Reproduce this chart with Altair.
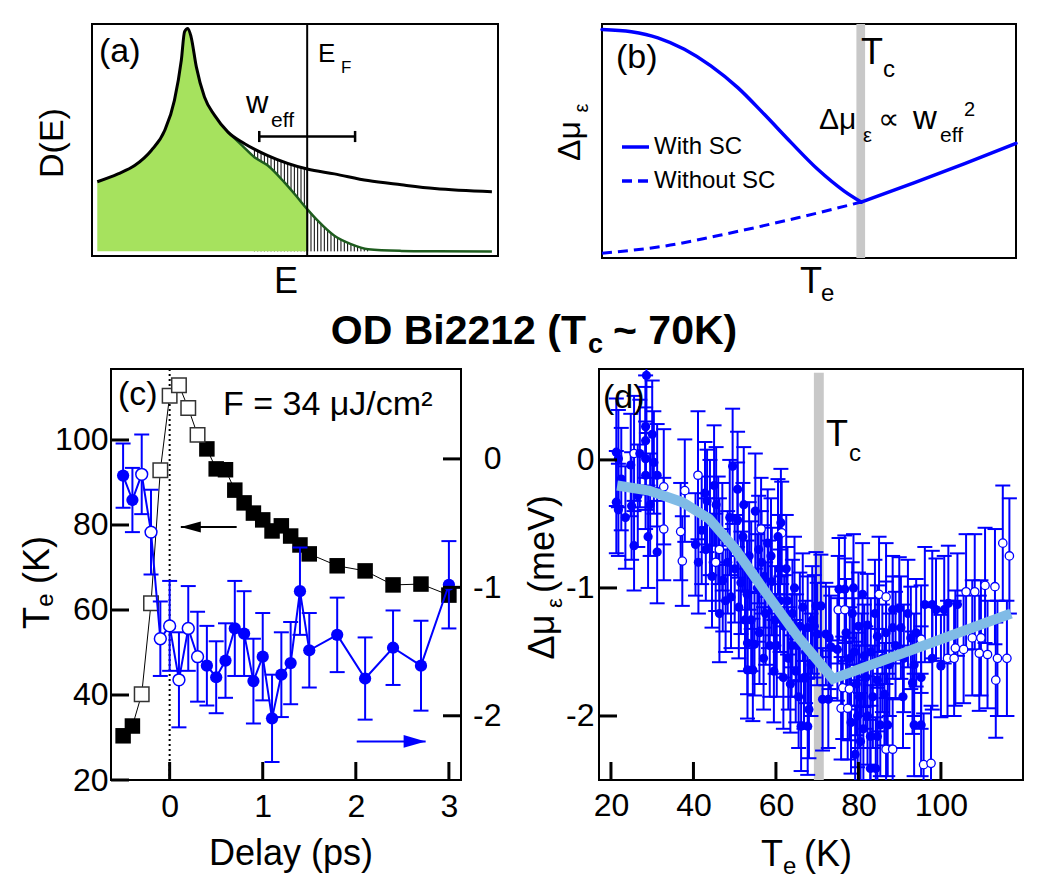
import altair as alt
import numpy as np
import pandas as pd

FONT = "Liberation Sans"
BLUE = "#0000ff"
FIT_BLUE = "#80bbe6"
GREY = "#c8c8c8"
LIGHT_GREEN = "#a6e25e"
DARK_GREEN = "#1e5c1e"

# ---------------- (a) density of states, E_F at E = 0 ----------------
A_E = [-5.17, -4.66, -4.25, -3.84, -3.51, -3.27, -3.10, -3.02, -2.94, -2.86, -2.73,
       -2.53, -2.28, -1.95, -1.54, -0.97, 0.00, 0.67, 1.50, 2.32, 3.14, 4.55]
A_DOS = [3.20, 3.54, 3.90, 4.55, 5.41, 6.71, 8.44, 9.67, 9.81, 9.45, 8.15,
         6.85, 6.06, 5.34, 4.84, 4.33, 3.75, 3.54, 3.25, 3.07, 2.91, 2.77]
A_OCC_E = [-5.17, -4.66, -4.25, -3.84, -3.51, -3.27, -3.10, -3.02, -2.94, -2.86, -2.73,
           -2.53, -2.28, -1.95, -1.60, -1.30, -0.97, -0.56, -0.31, 0.00, 0.26, 0.67,
           1.08, 1.50, 2.32, 3.20, 4.55]
A_OCC = [3.20, 3.54, 3.90, 4.55, 5.41, 6.71, 8.44, 9.67, 9.81, 9.45, 8.15,
         6.85, 6.06, 5.34, 4.76, 4.26, 3.90, 3.17, 2.67, 2.02, 1.52, 0.87,
         0.51, 0.29, 0.22, 0.20, 0.19]
A_WEFF = [-1.18, 1.18]
A_WEFF_LEVEL = 5.15

# ---------------- (b) sketch of the chemical-potential shift ----------------
B_TC = 62.5
B_SC_T = [0, 7.1, 13.5, 19.9, 26.3, 32.8, 39.2, 45.7, 52.1, 58.5, 62.6]
B_SC_V = [9.77, 9.67, 9.41, 8.92, 8.21, 7.28, 6.14, 4.93, 3.79, 2.86, 2.39]
B_NORMAL_T = [62.6, 75.5, 87.6, 100]
B_NORMAL_V = [2.39, 3.22, 4.03, 4.90]
B_NOSC_T = [0, 15.1, 31.3, 47.3, 62.6]
B_NOSC_V = [0.20, 0.51, 1.08, 1.72, 2.39]

# ---------------- (c) electronic temperature and shift vs delay ----------------
C_DELAY = [-0.5, -0.4, -0.3, -0.2, -0.1, 0.0, 0.1, 0.2, 0.3, 0.4, 0.5, 0.6, 0.7,
           0.8, 0.9, 1.0, 1.1, 1.2, 1.3, 1.4, 1.5, 1.8, 2.1, 2.4, 2.7, 3.0]
C_OPEN = [0, 0, 1, 1, 1, 1, 1, 1, 1, 0, 0, 0, 0, 0, 0, 0, 0, 0, 0, 0, 0, 0, 0, 0, 0, 0]
C_TE = [30.4, 32.7, 40.2, 61.6, 92.9, 110.4, 112.9, 107.5, 101.2, 97.9, 93.2, 93.0, 88.2,
        85.2, 82.8, 81.2, 78.6, 79.8, 77.4, 75.3, 73.2, 70.4, 69.2, 65.9, 66.1, 63.5]
C_DMU = [-0.13, -0.32, -0.12, -0.57, -1.40, -1.30, -1.72, -1.32, -1.54, -1.61, -1.70, -1.57, -1.32,
         -1.36, -1.73, -1.54, -2.02, -1.68, -1.59, -1.03, -1.49, -1.37, -1.71, -1.47, -1.61, -0.98]
C_ERR = [0.25, 0.25, 0.31, 0.33, 0.29, 0.35, 0.37, 0.33, 0.35, 0.31, 0.28, 0.29, 0.37,
         0.33, 0.33, 0.34, 0.34, 0.33, 0.32, 0.34, 0.29, 0.29, 0.32, 0.29, 0.35, 0.34]
C_TICKS_X = [0, 1, 2, 3]
C_TICKS_TE = [20, 40, 60, 80, 100]
C_TICKS_DMU = [0, -1, -2]

# ---------------- (d) shift vs electronic temperature ----------------
D_FILLED_T = [21.3, 21.8, 21.3, 21.8, 24.8, 25.0, 25.6, 26.5, 28.4, 28.4,
              28.4, 28.4, 28.6, 29.5, 30.4, 31.2, 31.2, 40.5, 41.2, 42.8,
              43.3, 44.0, 44.5, 45.0, 46.0, 46.3, 47.1, 48.3, 49.1, 49.5,
              50.7, 50.7, 51.5, 52.0, 52.5, 53.1, 53.1, 53.5, 54.4, 54.8,
              55.0, 55.5, 56.5, 57.2, 57.5, 58.0, 58.5, 59.0, 59.5, 60.5,
              61.2, 61.0, 62.0, 62.5, 63.0, 63.5, 64.0, 64.5, 65.0, 65.5,
              66.1, 66.5, 67.7, 67.7, 68.5, 69.3, 69.7, 70.0, 70.9, 71.3,
              72.1, 72.7, 72.9, 73.3, 74.9, 75.3, 76.7, 78.5, 79.0, 79.5,
              79.8, 80.0, 80.5, 80.8, 81.0, 81.4, 82.2, 82.2, 82.9, 82.9,
              84.2, 84.6, 84.6, 84.6, 85.3, 86.3, 86.7, 87.1, 88.3, 88.3,
              89.9, 90.3, 91.0, 92.7, 93.1, 93.5, 93.5, 95.2, 95.2, 96.1,
              97.9, 97.9, 98.8, 100.0, 100.8, 101.8, 104.0,
              42.0, 43.0, 45.5, 47.0, 47.8, 48.8, 50.0, 51.0, 52.2, 53.0,
              54.0, 54.0, 55.8, 56.0, 57.0, 58.2, 58.8, 59.8, 60.2, 60.8,
              61.8, 62.8, 63.8, 64.8, 65.8, 66.8, 67.2, 68.0, 68.8,
              77.0, 77.9, 78.2, 78.8, 79.2, 80.2, 81.2, 81.8, 83.0, 83.5,
              84.0, 85.8, 87.5, 89.0, 90.8, 92.0, 94.0,
              22.5, 23.5, 27.0, 29.0, 30.0]
D_FILLED_V = [0.06, 0.01, -0.33, -0.39, -0.04, -0.36, -0.67, -0.28, 0.26, 0.15,
              0.01, -0.12, 0.66, -0.35, -0.02, -0.12, -0.72, -0.66, -0.80, -0.26,
              -0.32, -0.45, -0.91, -0.20, -0.55, -1.20, -0.94, -0.80, -1.07, -0.05,
              -0.23, -0.47, -0.96, -0.60, -1.25, -1.43, -1.64, -0.75, -1.64, -1.44,
              -0.40, -1.00, -0.80, -0.91, -1.20, -0.65, -1.45, -0.95, -1.65, -0.60,
              -0.49, -1.10, -1.30, -0.85, -1.55, -1.75, -1.20, -1.00, -1.45, -1.85,
              -2.08, -1.15, -1.31, -2.08, -1.60, -1.30, -1.14, -1.36, -1.14, -1.87,
              -1.36, -1.87, -1.39, -1.46, -1.48, -1.01, -1.01, -1.20, -1.50, -1.75,
              -2.00, -1.30, -2.20, -1.60, -1.05, -1.53, -1.29, -2.00, -2.16, -2.41,
              -2.41, -1.38, -1.72, -2.16, -2.07, -1.83, -1.35, -2.07, -1.17, -1.31,
              -1.16, -1.31, -1.55, -1.39, -1.74, -1.60, -2.07, -1.70, -2.07, -1.13,
              -1.13, -1.55, -1.17, -1.61, -1.17, -1.12, -1.13,
              -0.55, -0.70, -0.35, -0.60, -1.10, -0.45, -0.85, -1.15, -0.35, -1.05,
              -0.90, -1.25, -0.70, -1.35, -1.55, -1.05, -0.75, -1.25, -1.45, -0.85,
              -1.70, -1.10, -1.45, -1.65, -1.30, -1.70, -1.50, -1.95, -1.25,
              -1.35, -1.55, -2.05, -1.00, -2.30, -1.85, -2.10, -1.70, -1.50, -1.85,
              -1.20, -1.55, -1.60, -1.45, -1.85, -1.20, -1.35,
              -0.15, -0.45, 0.05, -0.60, 0.20]
D_FILLED_ERR = [0.42, 0.38, 0.40, 0.36, 0.40, 0.42, 0.35, 0.40, 0.40, 0.42,
                0.40, 0.42, 0.45, 0.40, 0.40, 0.40, 0.40, 0.40, 0.40, 0.40,
                0.40, 0.45, 0.40, 0.47, 0.42, 0.38, 0.40, 0.40, 0.40, 0.45,
                0.45, 0.45, 0.40, 0.42, 0.40, 0.40, 0.38, 0.42, 0.40, 0.40,
                0.45, 0.42, 0.40, 0.40, 0.40, 0.42, 0.40, 0.42, 0.40, 0.45,
                0.42, 0.40, 0.40, 0.42, 0.40, 0.38, 0.42, 0.40, 0.40, 0.40,
                0.35, 0.42, 0.40, 0.38, 0.40, 0.40, 0.42, 0.40, 0.40, 0.40,
                0.40, 0.38, 0.40, 0.40, 0.40, 0.40, 0.42, 0.40, 0.42, 0.40,
                0.40, 0.42, 0.38, 0.40, 0.40, 0.40, 0.40, 0.38, 0.40, 0.38,
                0.40, 0.40, 0.40, 0.40, 0.40, 0.40, 0.40, 0.40, 0.42, 0.40,
                0.40, 0.40, 0.42, 0.40, 0.40, 0.40, 0.40, 0.40, 0.40, 0.45,
                0.42, 0.40, 0.40, 0.40, 0.42, 0.45, 0.40,
                0.42, 0.40, 0.45, 0.42, 0.40, 0.45, 0.42, 0.40, 0.45, 0.42,
                0.42, 0.40, 0.42, 0.40, 0.40, 0.42, 0.45, 0.42, 0.40, 0.42,
                0.40, 0.42, 0.40, 0.40, 0.42, 0.40, 0.40, 0.38, 0.42,
                0.42, 0.40, 0.40, 0.42, 0.38, 0.40, 0.40, 0.40, 0.42, 0.40,
                0.42, 0.42, 0.40, 0.42, 0.40, 0.42, 0.42,
                0.40, 0.40, 0.42, 0.40, 0.42]
D_OPEN_T = [25.6, 32.8, 32.8, 36.9, 37.9, 37.3, 41.1, 45.4, 46.3, 56.4,
            61.4, 75.1, 75.8, 76.2, 76.7, 77.4, 77.8, 85.0, 86.7, 86.7,
            88.3, 95.2, 95.8, 97.6, 101.6, 103.2, 103.5, 105.5, 106.1, 107.6,
            108.2, 109.3, 109.7, 110.7, 111.3, 113.1, 113.3, 113.7, 115.0, 116.0, 116.6]
D_OPEN_V = [0.05, -0.21, -0.54, -0.56, -0.24, -0.79, -0.12, -0.80, -0.70, -0.54,
            -0.57, -1.17, -1.94, -1.78, -1.17, -1.94, -1.79, -1.05, -2.26, -1.07,
            -2.26, -1.40, -2.38, -2.37, -1.55, -1.55, -1.47, -1.48, -1.03, -1.39,
            -1.03, -1.51, -1.39, -0.98, -1.52, -0.99, -1.72, -1.55, -0.65, -1.55, -0.75]
D_OPEN_ERR = [0.45, 0.45, 0.40, 0.38, 0.40, 0.35, 0.50, 0.38, 0.40, 0.40,
              0.40, 0.42, 0.40, 0.40, 0.40, 0.40, 0.40, 0.45, 0.40, 0.42,
              0.40, 0.42, 0.40, 0.45, 0.45, 0.45, 0.45, 0.42, 0.45, 0.45,
              0.45, 0.45, 0.45, 0.45, 0.42, 0.45, 0.45, 0.45, 0.45, 0.45, 0.45]
D_FIT_T = [21.5, 29.2, 37.3, 43.8, 50.0, 57.2, 65.3, 73.8, 117.0]
D_FIT_V = [-0.20, -0.24, -0.33, -0.46, -0.69, -1.02, -1.38, -1.71, -1.20]
D_TC_BAND = [69.2, 71.6]
D_TICKS_X = [20, 40, 60, 80, 100]
D_TICKS_Y = [0, -1, -2]

# axis ranges of the two data panels
C_XDOM = [-0.63, 3.13]
C_TEDOM = [20, 116.7]
C_DMUDOM = [-2.5, 0.70]
D_XDOM = [17.1, 119.9]
D_YDOM = [-2.5, 0.71]

# panel plot-area sizes (px)
A_W, A_H = 406, 232
B_W, B_H = 414, 234
C_W, C_H = 350, 411
D_W, D_H = 424, 411
TICK = 18

ONE = pd.DataFrame({"k": [0]})
FRAME = alt.ViewBackground(stroke="black", strokeWidth=2)


def label(text, x, y, size, align="left", baseline="middle", angle=0, bold=False, color="black"):
    return alt.Chart(ONE).mark_text(
        text=text, align=align, baseline=baseline, angle=angle, font=FONT,
        fontSize=size, fontWeight="bold" if bold else "normal", color=color,
    ).encode(x=alt.value(x), y=alt.value(y))


def blank(x, x2, y, y2):
    """Invisible rectangle that only reserves layout room."""
    return alt.Chart(ONE).mark_rect(opacity=0).encode(
        x=alt.value(x), x2=alt.value(x2), y=alt.value(y), y2=alt.value(y2))


def tick_len(dom, px):
    """Length in data units of an inward tick of TICK pixels."""
    return TICK * (dom[1] - dom[0]) / px


def ticks_bottom(values, xfield, xscale, xaxis, ydom, yscale, yaxis, ypx):
    df = pd.DataFrame({xfield: [float(v) for v in values]})
    return alt.Chart(df).transform_calculate(
        ta=str(ydom[0]), tb=str(ydom[0] + tick_len(ydom, ypx))).mark_rule(
        color="black", strokeWidth=3, opacity=1).encode(
        x=alt.X(f"{xfield}:Q", scale=xscale, axis=xaxis),
        y=alt.Y("ta:Q", scale=yscale, axis=yaxis), y2="tb:Q")


def ticks_side(values, yfield, yscale, yaxis, xdom, xscale, xaxis, xpx, right=False):
    df = pd.DataFrame({yfield: [float(v) for v in values]})
    if right:
        ta, tb = xdom[1] - tick_len(xdom, xpx), xdom[1]
    else:
        ta, tb = xdom[0], xdom[0] + tick_len(xdom, xpx)
    return alt.Chart(df).transform_calculate(ta=str(ta), tb=str(tb)).mark_rule(
        color="black", strokeWidth=3, opacity=1).encode(
        y=alt.Y(f"{yfield}:Q", scale=yscale, axis=yaxis),
        x=alt.X("ta:Q", scale=xscale, axis=xaxis), x2="tb:Q")


# ======================= panel (a) =======================
xa = alt.Scale(domain=[-5.3, 4.7], nice=False, zero=False)
ya = alt.Scale(domain=[0, 10], nice=False, zero=False)
ea = alt.X("E:Q", scale=xa, axis=None)
da = alt.Y("D:Q", scale=ya, axis=None)

dos = pd.DataFrame({"E": A_E, "D": A_DOS})
occ = pd.DataFrame({"E": A_OCC_E, "D": A_OCC})
hatch = pd.DataFrame({"E": np.round(np.arange(-1.30, 1.55, 0.082), 3)})

hatch_lines = alt.Chart(hatch).transform_calculate(lo="0.2", hi="9.0").mark_rule(
    color="black", strokeWidth=1).encode(x=ea, y=alt.Y("lo:Q", scale=ya, axis=None), y2="hi:Q")
mask_dos = alt.Chart(dos).transform_calculate(top="9.9").mark_area(
    color="white", opacity=1, interpolate="monotone").encode(x=ea, y=da, y2="top:Q")
fill_occ = alt.Chart(occ).transform_filter("datum.E <= 0").transform_calculate(base="0.2").mark_area(
    color=LIGHT_GREEN, opacity=1, interpolate="monotone").encode(x=ea, y=da, y2="base:Q")
mask_occ = alt.Chart(occ).transform_filter("datum.E >= 0").transform_calculate(top="9.9").mark_area(
    color="white", opacity=1, interpolate="monotone").encode(x=ea, y=da, y2="top:Q")
line_occ = alt.Chart(occ).transform_filter("datum.E >= -1.95").mark_line(
    color=DARK_GREEN, strokeWidth=2.5, interpolate="monotone").encode(x=ea, y=da)
line_dos = alt.Chart(dos).mark_line(color="black", strokeWidth=3, interpolate="monotone").encode(x=ea, y=da)
ef_line = alt.Chart(pd.DataFrame({"E": [0.0]})).mark_rule(color="black", strokeWidth=2).encode(
    x=ea, y=alt.value(0), y2=alt.value(A_H))
weff = pd.DataFrame({"E": A_WEFF, "D": [A_WEFF_LEVEL] * 2})
weff_bar = alt.Chart(weff).mark_line(color="black", strokeWidth=2.5).encode(x=ea, y=da)
weff_caps = alt.Chart(weff).transform_calculate(lo="datum.D - 0.24", hi="datum.D + 0.24").mark_rule(
    color="black", strokeWidth=2.5).encode(x=ea, y=alt.Y("lo:Q", scale=ya, axis=None), y2="hi:Q")

panel_a = alt.layer(
    blank(-91, -80, -23, 340),
    hatch_lines, mask_dos, fill_occ, mask_occ, line_occ, line_dos, ef_line,
    weff_bar, weff_caps,
    label("(a)", 7, 28, 34),
    label("E", 226, 30, 26),
    label("F", 249, 44, 17),
    label("w", 154, 89, 31, baseline="alphabetic"),
    label("eff", 179, 103, 21, baseline="alphabetic"),
    label("D(E)", -39, 119, 34, align="center", angle=270),
    label("E", 194, 258, 36, align="center"),
    # figure heading between the two rows
    label("OD Bi2212 (T", 494, 320, 41, align="right", baseline="alphabetic", bold=True),
    label("c", 496, 329, 27, baseline="alphabetic", bold=True),
    label("~ 70K)", 521, 320, 41, baseline="alphabetic", bold=True),
).properties(width=A_W, height=A_H, view=FRAME)

# ======================= panel (b) =======================
xb = alt.Scale(domain=[0, 100], nice=False, zero=False)
yb = alt.Scale(domain=[0, 10], nice=False, zero=False)
tb = alt.X("T:Q", scale=xb, axis=None)
vb = alt.Y("V:Q", scale=yb, axis=None)

band_b = alt.Chart(pd.DataFrame({"lo": [B_TC - 1.05], "hi": [B_TC + 1.05]})).mark_rect(color=GREY).encode(
    x=alt.X("lo:Q", scale=xb, axis=None), x2="hi:Q", y=alt.value(0), y2=alt.value(B_H))
nosc = alt.Chart(pd.DataFrame({"T": B_NOSC_T, "V": B_NOSC_V})).mark_line(
    color=BLUE, strokeWidth=3, strokeDash=[10, 6], interpolate="monotone").encode(x=tb, y=vb)
sc = alt.Chart(pd.DataFrame({"T": B_SC_T, "V": B_SC_V})).mark_line(
    color=BLUE, strokeWidth=3.5, strokeCap="round", interpolate="monotone").encode(x=tb, y=vb)
normal = alt.Chart(pd.DataFrame({"T": B_NORMAL_T, "V": B_NORMAL_V})).mark_line(
    color=BLUE, strokeWidth=3.5, strokeCap="round").encode(x=tb, y=vb)
key_sc = alt.Chart(ONE).mark_rule(color=BLUE, strokeWidth=3.5).encode(
    x=alt.value(20), x2=alt.value(47), y=alt.value(123))
key_nosc = alt.Chart(ONE).mark_rule(color=BLUE, strokeWidth=3.5, strokeDash=[10, 6]).encode(
    x=alt.value(20), x2=alt.value(47), y=alt.value(157))

panel_b = alt.layer(
    band_b, nosc, sc, normal, key_sc, key_nosc,
    label("With SC", 52, 123, 24),
    label("Without SC", 52, 157, 24),
    label("(b)", 14, 34, 34),
    label("T", 259, 29, 36),
    label("c", 281, 46, 24),
    label("Δμ", 217, 105, 30, baseline="alphabetic"),
    label("ε", 261, 118, 20, baseline="alphabetic"),
    label("∝", 276, 105, 30, baseline="alphabetic"),
    label("w", 311, 105, 33, baseline="alphabetic"),
    label("eff", 338, 118, 21, baseline="alphabetic"),
    label("2", 362, 92, 20, baseline="alphabetic"),
    label("Δμ", -32, 117, 32, align="center", angle=270),
    label("ε", -20, 84, 20, align="center", angle=270),
    label("T", 209, 258, 36, align="center"),
    label("e", 219, 270, 24),
).properties(width=B_W, height=B_H, view=FRAME)

# ======================= panel (c) =======================
AX = dict(ticks=False, domain=False, grid=False, labelColor="black", labelFont=FONT,
          labelFontSize=32, labelFlush=False, labelOverlap=False, title=None)

xc = alt.Scale(domain=C_XDOM, nice=False, zero=False)
ycl = alt.Scale(domain=C_TEDOM, nice=False, zero=False)
ycr = alt.Scale(domain=C_DMUDOM, nice=False, zero=False)
xc_axis = alt.Axis(values=C_TICKS_X, labelPadding=11, **AX)
ycl_axis = alt.Axis(orient="left", values=C_TICKS_TE, labelPadding=3, **AX)
ycr_axis = alt.Axis(orient="right", values=C_TICKS_DMU, labelPadding=40, labelAlign="right",
                    labelExpr="'' + datum.value", **AX)
tc = alt.X("t:Q", scale=xc, axis=xc_axis)
te = alt.Y("Te:Q", scale=ycl, axis=ycl_axis)
dm = alt.Y("dmu:Q", scale=ycr, axis=ycr_axis)

sq = pd.DataFrame({"t": C_DELAY, "Te": C_TE, "open": C_OPEN})
mu = pd.DataFrame({"t": C_DELAY, "dmu": C_DMU, "err": C_ERR, "open": C_OPEN})

zero_line = alt.Chart(pd.DataFrame({"t": [0.0]})).mark_rule(
    color="black", strokeWidth=2, strokeDash=[2, 3]).encode(x=tc, y=alt.value(0), y2=alt.value(C_H))
sq_line = alt.Chart(sq).mark_line(color="black", strokeWidth=1).encode(x=tc, y=te)
sq_full = alt.Chart(sq).transform_filter("datum.open == 0").mark_square(
    color="black", size=240, opacity=1).encode(x=tc, y=te)
sq_open = alt.Chart(sq).transform_filter("datum.open == 1").mark_square(
    fill="white", stroke="#333333", strokeWidth=1.5, size=210, opacity=1).encode(x=tc, y=te)
arrow_l = pd.DataFrame({"t": [0.12], "t2": [0.72], "Te": [79.5]})
arrow_l_shaft = alt.Chart(arrow_l).mark_rule(color="black", strokeWidth=2).encode(x=tc, x2="t2:Q", y=te)
arrow_l_head = alt.Chart(arrow_l).mark_point(
    shape="M0,0L2,-0.55L2,0.55Z", filled=True, color="black", size=400, opacity=1).encode(x=tc, y=te)

left_group = alt.layer(
    zero_line, sq_line, sq_full, sq_open, arrow_l_shaft, arrow_l_head,
    ticks_bottom(C_TICKS_X, "t", xc, xc_axis, C_TEDOM, ycl, ycl_axis, C_H),
    ticks_side(C_TICKS_TE, "Te", ycl, ycl_axis, C_XDOM, xc, xc_axis, C_W),
)

mu_bars = alt.Chart(mu).transform_calculate(lo="datum.dmu - datum.err", hi="datum.dmu + datum.err")
mu_err = mu_bars.mark_rule(color=BLUE, strokeWidth=2).encode(
    x=tc, y=alt.Y("lo:Q", scale=ycr, axis=ycr_axis), y2="hi:Q")
mu_cap_lo = mu_bars.mark_tick(orient="horizontal", color=BLUE, size=15, thickness=2, opacity=1).encode(
    x=tc, y=alt.Y("lo:Q", scale=ycr, axis=ycr_axis))
mu_cap_hi = mu_bars.mark_tick(orient="horizontal", color=BLUE, size=15, thickness=2, opacity=1).encode(
    x=tc, y=alt.Y("hi:Q", scale=ycr, axis=ycr_axis))
mu_line = alt.Chart(mu).mark_line(color=BLUE, strokeWidth=2).encode(x=tc, y=dm)
mu_full = alt.Chart(mu).transform_filter("datum.open == 0").mark_circle(
    color=BLUE, size=150, opacity=1).encode(x=tc, y=dm)
mu_open = alt.Chart(mu).transform_filter("datum.open == 1").mark_point(
    shape="circle", filled=True, fill="white", stroke=BLUE, strokeWidth=1.5, size=140, opacity=1).encode(x=tc, y=dm)
arrow_r = pd.DataFrame({"t": [2.75], "t2": [2.01], "dmu": [-2.20]})
arrow_r_shaft = alt.Chart(arrow_r).mark_rule(color=BLUE, strokeWidth=2).encode(x=tc, x2="t2:Q", y=dm)
arrow_r_head = alt.Chart(arrow_r).mark_point(
    shape="M0,0L-2,-0.58L-2,0.58Z", filled=True, color=BLUE, size=484, opacity=1).encode(x=tc, y=dm)

right_group = alt.layer(
    mu_err, mu_cap_lo, mu_cap_hi, mu_line, mu_full, mu_open, arrow_r_shaft, arrow_r_head,
    ticks_side(C_TICKS_DMU, "dmu", ycr, ycr_axis, C_XDOM, xc, xc_axis, C_W, right=True),
)

texts_c = alt.layer(
    blank(-110, -100, -3, 0),
    label("(c)", 7, 26, 34),
    label("F = 34 μJ/cm²", 112, 36, 34),
    label("(K)", -73, 191, 36, align="center", angle=270),
    label("T", -73, 249, 36, align="center", angle=270),
    label("e", -65, 231, 24, align="center", angle=270),
    label("Delay (ps)", 180, 485, 36, align="center"),
)

panel_c = alt.layer(left_group, right_group, texts_c).resolve_scale(y="independent").properties(
    width=C_W, height=C_H, view=FRAME)

# ======================= panel (d) =======================
xd = alt.Scale(domain=D_XDOM, nice=False, zero=False)
yd = alt.Scale(domain=D_YDOM, nice=False, zero=False)
xd_axis = alt.Axis(values=D_TICKS_X, labelPadding=10, **AX)
yd_axis = alt.Axis(values=D_TICKS_Y, labelPadding=5, labelExpr="'' + datum.value", **AX)
td = alt.X("T:Q", scale=xd, axis=xd_axis)
vd = alt.Y("V:Q", scale=yd, axis=yd_axis)

filled_d = pd.DataFrame({"T": D_FILLED_T, "V": D_FILLED_V, "err": D_FILLED_ERR})
open_d = pd.DataFrame({"T": D_OPEN_T, "V": D_OPEN_V, "err": D_OPEN_ERR})
all_d = pd.concat([filled_d, open_d], ignore_index=True)

band_d = alt.Chart(pd.DataFrame({"lo": [D_TC_BAND[0]], "hi": [D_TC_BAND[1]], "top": [0.68], "bot": [-2.5]})).mark_rect(
    color=GREY).encode(x=alt.X("lo:Q", scale=xd, axis=xd_axis), x2="hi:Q",
                       y=alt.Y("top:Q", scale=yd, axis=yd_axis), y2="bot:Q")
bars_d = alt.Chart(all_d).transform_calculate(lo="datum.V - datum.err", hi="datum.V + datum.err")
err_d = bars_d.mark_rule(color=BLUE, strokeWidth=2, clip=True).encode(
    x=td, y=alt.Y("lo:Q", scale=yd, axis=yd_axis), y2="hi:Q")
cap_lo_d = bars_d.mark_tick(orient="horizontal", color=BLUE, size=15, thickness=2, opacity=1, clip=True).encode(
    x=td, y=alt.Y("lo:Q", scale=yd, axis=yd_axis))
cap_hi_d = bars_d.mark_tick(orient="horizontal", color=BLUE, size=15, thickness=2, opacity=1, clip=True).encode(
    x=td, y=alt.Y("hi:Q", scale=yd, axis=yd_axis))
open_pts = alt.Chart(open_d).mark_point(
    shape="circle", filled=True, fill="white", stroke=BLUE, strokeWidth=1.3, size=70, opacity=1).encode(x=td, y=vd)
full_pts = alt.Chart(filled_d).mark_circle(color=BLUE, size=85, opacity=1).encode(x=td, y=vd)
fit_d = alt.Chart(pd.DataFrame({"T": D_FIT_T, "V": D_FIT_V})).mark_line(
    color=FIT_BLUE, strokeWidth=10, strokeCap="butt", strokeJoin="miter").encode(x=td, y=vd)

panel_d = alt.layer(
    band_d, err_d, cap_lo_d, cap_hi_d, open_pts, full_pts, fit_d,
    ticks_bottom(D_TICKS_X, "T", xd, xd_axis, D_YDOM, yd, yd_axis, D_H),
    ticks_side(D_TICKS_Y, "V", yd, yd_axis, D_XDOM, xd, xd_axis, D_W),
    label("(d)", 4, 29, 34),
    label("T", 227, 66, 36),
    label("c", 250, 85, 24),
    label("(meV)", -56, 175, 36, align="center", angle=270),
    label("ε", -44, 234, 22, align="center", angle=270),
    label("Δμ", -56, 268, 36, align="center", angle=270),
    label("T", 162, 486, 36),
    label("e", 184, 498, 24),
    label("(K)", 205, 486, 36),
).properties(width=D_W, height=D_H, view=FRAME)

# ======================= layout =======================
spacer = alt.Chart(ONE).mark_point(opacity=0).encode(x=alt.value(0), y=alt.value(0)).properties(
    width=19, height=C_H)

row1 = alt.hconcat(panel_a, panel_b, spacing=104, bounds="flush")
row2 = alt.hconcat(spacer, alt.hconcat(panel_c, panel_d, spacing=138, bounds="flush"),
                   spacing=0, bounds="flush")

chart = alt.vconcat(row1, row2, spacing=0, bounds="full").properties(padding=0).configure_view(
    stroke="transparent").configure_axis(labelFont=FONT, titleFont=FONT)

chart.save("out.html", embed_options={"renderer": "svg", "actions": False})
